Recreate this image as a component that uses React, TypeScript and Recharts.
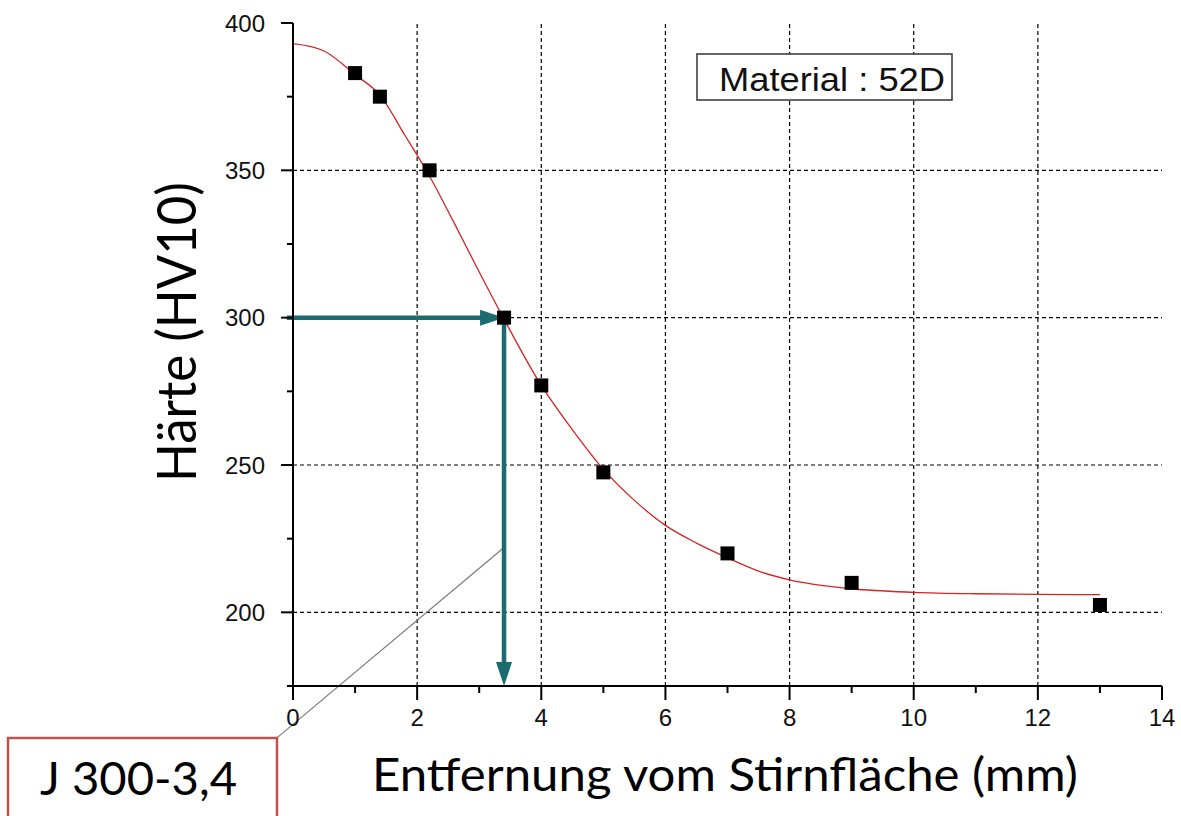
import React from 'react';
import { ComposedChart, Line, Scatter, XAxis, YAxis, ReferenceLine } from 'recharts';

// Measured hardness (HV10) at each distance from the quenched end face (mm)
const POINT_X = [1, 1.4, 2.2, 3.4, 4, 5, 7, 9, 13];
const POINT_HV = [383, 375, 350, 300, 277, 247.5, 220, 210, 202.5];

// Fitted hardness curve
const CURVE_X = [0, 0.5, 1, 1.4, 1.8, 2.2, 2.6, 3, 3.4, 4, 4.5, 5, 5.5, 6, 6.5, 7, 7.5, 8, 9, 10, 11, 12, 13];
const CURVE_HV = [393, 390.5, 382.5, 375.5, 362, 348, 332, 315.5, 299.5, 277, 262, 248.5, 238, 229.5, 223.5, 218.5, 214, 211, 208, 206.8, 206.3, 206.1, 206];

// Axis ticks (odd x values and odd multiples of 25 are minor ticks)
const X_TICKS = [0, 1, 2, 3, 4, 5, 6, 7, 8, 9, 10, 11, 12, 13, 14];
const Y_TICKS = [175, 200, 225, 250, 275, 300, 325, 350, 375, 400];
const X_GRID = [2, 4, 6, 8, 10, 12];
const Y_GRID = [200, 250, 300, 350];

// Jominy reading: hardness 300 HV reached at 3.4 mm
const J_HARDNESS = 300;
const J_DISTANCE = 3.4;
const LEADER_START_HV = 222;
// Lower end of the leader line (corner of the callout box)
const LEADER_END = { x: -0.26, y: 157.4 };

const X_DOMAIN: [number, number] = [0, 14];
const Y_DOMAIN: [number, number] = [175, 400];

const points = POINT_X.map((x, i) => ({ x, y: POINT_HV[i] }));
const curve = CURVE_X.map((x, i) => ({ x, y: CURVE_HV[i] }));

const TEAL = '#1c6b70';
const TICK_FONT = '"Liberation Sans", Arial, sans-serif';
const TITLE_FONT = 'Lato, "Open Sans", sans-serif';

const XTick = (props: any) => {
  const { x, y, payload } = props;
  const v = payload.value as number;
  const major = v % 2 === 0;
  return (
    <g>
      <line x1={x} x2={x} y1={y} y2={y + (major ? 14 : 7)} stroke="#000" strokeWidth={2} />
      {major && (
        <text x={x} y={y + 40} textAnchor="middle" fontSize={24} fontFamily={TICK_FONT} fill="#111">
          {v}
        </text>
      )}
    </g>
  );
};

const YTick = (props: any) => {
  const { x, y, payload } = props;
  const v = payload.value as number;
  const major = v % 50 === 0;
  return (
    <g>
      <line x1={x - (major ? 12 : 6)} x2={x} y1={y} y2={y} stroke="#000" strokeWidth={2} />
      {major && (
        <text x={x - 28} y={y} dy="0.36em" textAnchor="end" fontSize={24} fontFamily={TICK_FONT} fill="#111">
          {v}
        </text>
      )}
    </g>
  );
};

const SquareDot = (props: any) => {
  const { cx, cy } = props;
  if (cx == null || cy == null) return <g />;
  return <rect x={cx - 7} y={cy - 7} width={14} height={14} fill="#000" />;
};

const Arrow = (props: any) => {
  const { x1, y1, x2, y2 } = props;
  const dx = x2 - x1;
  const dy = y2 - y1;
  const len = Math.hypot(dx, dy) || 1;
  const ux = dx / len;
  const uy = dy / len;
  const head = 24;
  const half = 8;
  const bx = x2 - ux * head;
  const by = y2 - uy * head;
  const px = -uy;
  const py = ux;
  return (
    <g>
      <line x1={x1} y1={y1} x2={bx + ux * 2} y2={by + uy * 2} stroke={TEAL} strokeWidth={4.5} />
      <polygon
        points={`${x2},${y2} ${bx + px * half},${by + py * half} ${bx - px * half},${by - py * half}`}
        fill={TEAL}
      />
    </g>
  );
};

export default function App() {
  return (
    <div
      style={{
        position: 'absolute',
        left: 0,
        top: 0,
        width: 1181,
        height: 816,
        overflow: 'hidden',
        background: '#fff',
      }}
    >
      <ComposedChart width={1181} height={816} margin={{ top: 23, right: 19, bottom: 70, left: 213 }}>
        <XAxis
          type="number"
          dataKey="x"
          domain={X_DOMAIN}
          ticks={X_TICKS}
          interval={0}
          allowDataOverflow
          height={60}
          tickSize={0}
          tickMargin={0}
          tickLine={false}
          axisLine={{ stroke: '#000', strokeWidth: 2 }}
          tick={<XTick />}
        />
        <YAxis
          type="number"
          dataKey="y"
          domain={Y_DOMAIN}
          ticks={Y_TICKS}
          interval={0}
          allowDataOverflow
          width={80}
          tickSize={0}
          tickMargin={0}
          tickLine={false}
          axisLine={{ stroke: '#000', strokeWidth: 2 }}
          tick={<YTick />}
        />
        {X_GRID.map((v) => (
          <ReferenceLine key={`gx${v}`} x={v} stroke="#000" strokeWidth={1.2} strokeDasharray="4 3" />
        ))}
        {Y_GRID.map((v) => (
          <ReferenceLine key={`gy${v}`} y={v} stroke="#000" strokeWidth={1.2} strokeDasharray="4 3" />
        ))}
        <ReferenceLine
          segment={[
            { x: J_DISTANCE, y: LEADER_START_HV },
            { x: LEADER_END.x, y: LEADER_END.y },
          ]}
          stroke="#7a7a7a"
          strokeWidth={1.2}
          ifOverflow="visible"
        />
        <ReferenceLine
          segment={[
            { x: -0.1, y: J_HARDNESS },
            { x: J_DISTANCE, y: J_HARDNESS },
          ]}
          ifOverflow="visible"
          shape={<Arrow />}
        />
        <ReferenceLine
          segment={[
            { x: J_DISTANCE, y: J_HARDNESS },
            { x: J_DISTANCE, y: Y_DOMAIN[0] },
          ]}
          ifOverflow="visible"
          shape={<Arrow />}
        />
        <Scatter data={points} dataKey="y" shape={<SquareDot />} isAnimationActive={false} />
        <Line
          data={curve}
          dataKey="y"
          type="monotone"
          stroke="#d42424"
          strokeWidth={1.3}
          dot={false}
          activeDot={false}
          isAnimationActive={false}
        />
      </ComposedChart>

      <svg
        width={1181}
        height={816}
        style={{ position: 'absolute', left: 0, top: 0, pointerEvents: 'none' }}
      >
        {/* Material tag */}
        <rect x={697} y={54} width={255} height={46} fill="#fff" stroke="#333" strokeWidth={1.5} />
        <text
          x={832}
          y={91}
          textAnchor="middle"
          fontSize={33}
          fontFamily={TICK_FONT}
          fill="#111"
          textLength={226}
          lengthAdjust="spacingAndGlyphs"
        >
          Material : 52D
        </text>

        {/* Axis titles */}
        <text
          transform="translate(196, 332) rotate(-90)"
          textAnchor="middle"
          fontSize={54}
          fontFamily={TITLE_FONT}
          fill="#000"
          textLength={300}
          lengthAdjust="spacingAndGlyphs"
        >
          Härte (HV10)
        </text>
        <text
          x={725}
          y={791}
          textAnchor="middle"
          fontSize={46}
          fontFamily={TITLE_FONT}
          fill="#000"
          textLength={706}
          lengthAdjust="spacingAndGlyphs"
        >
          Entfernung vom Stirnfläche (mm)
        </text>

        {/* Jominy callout */}
        <rect x={8} y={738} width={269} height={100} fill="#fff" stroke="#c0504d" strokeWidth={2.5} />
        <text
          x={138.5}
          y={795}
          textAnchor="middle"
          fontSize={46}
          fontFamily={TITLE_FONT}
          fill="#000"
          textLength={197}
          lengthAdjust="spacingAndGlyphs"
        >
          {`J ${J_HARDNESS}-${String(J_DISTANCE).replace('.', ',')}`}
        </text>
      </svg>
    </div>
  );
}
